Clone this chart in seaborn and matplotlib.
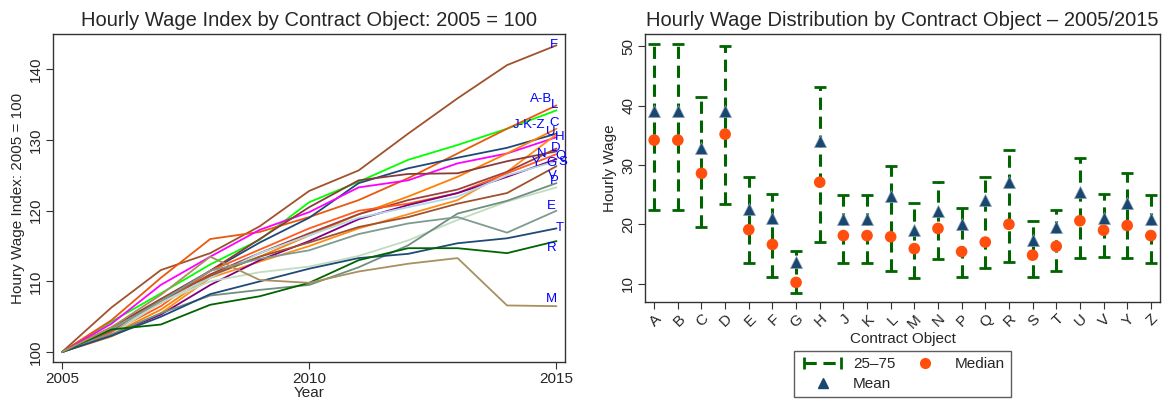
import numpy as np
import pandas as pd
import seaborn as sns
import matplotlib
matplotlib.use("Agg")
from matplotlib import pyplot as plt
from matplotlib.lines import Line2D
from matplotlib.legend_handler import HandlerLine2D

# left panel: hourly wage index by group, 2005 = 100
years = list(range(2005, 2016))
groups = ['F', 'A-B', 'L', 'J-K-Z', 'H', 'C', 'U', 'N', 'D', 'Q',
          'Y', 'G', 'S', 'V', 'P', 'E', 'T', 'R', 'M']
idx_F = [100, 106.3, 111.6, 114.0, 117.8, 122.8, 125.7, 130.9, 135.9, 140.6, 143.4]
idx_AB = [100, 104.3, 108.3, 112.4, 115.9, 121.2, 124.1, 127.2, 129.3, 131.6, 134.2]
idx_L = [100, 104.5, 110.5, 116.0, 117.0, 119.1, 121.5, 124.6, 128.1, 131.6, 134.9]
idx_JKZ = [100, 103.0, 107.0, 111.5, 115.5, 119.0, 123.9, 126.0, 127.5, 128.9, 130.9]
idx_H = [100, 104.0, 109.5, 113.5, 117.3, 119.8, 123.3, 124.3, 126.7, 128.1, 130.4]
idx_C = [100, 102.5, 106.0, 110.8, 113.5, 116.5, 119.5, 122.0, 124.8, 128.1, 131.6]
idx_U = [100, 102.2, 105.5, 110.5, 112.8, 115.0, 117.5, 119.5, 121.5, 125.5, 130.8]
idx_N = [100, 103.5, 107.5, 111.5, 116.0, 120.5, 124.3, 125.2, 125.3, 127.0, 128.4]
idx_D = [100, 103.2, 107.0, 111.0, 114.0, 116.8, 119.5, 121.5, 123.0, 125.5, 128.8]
idx_Q = [100, 102.8, 106.5, 111.5, 114.5, 117.5, 120.0, 121.0, 122.5, 125.3, 128.0]
idx_Y = [100, 102.5, 105.3, 109.5, 113.0, 115.7, 118.8, 120.8, 122.5, 124.8, 127.3]
idx_G = [100, 103.0, 107.0, 110.5, 114.0, 116.5, 119.0, 120.5, 122.0, 125.0, 127.0]
idx_S = [100, 103.0, 107.5, 110.8, 113.5, 115.5, 117.7, 119.1, 121.0, 122.5, 126.3]
idx_V = [100, 102.5, 107.0, 110.0, 111.3, 112.1, 113.6, 115.8, 118.7, 121.3, 123.3]
idx_P = [100, 102.5, 105.5, 108.0, 108.8, 109.5, 112.0, 115.1, 119.6, 121.4, 123.9]
idx_E = [100, 103.2, 107.2, 111.5, 113.2, 114.4, 116.7, 118.2, 119.1, 116.9, 120.0]
idx_T = [100, 102.3, 105.0, 108.2, 110.0, 111.8, 113.3, 113.9, 115.4, 116.1, 117.5]
idx_R = [100, 103.2, 103.9, 106.7, 107.9, 109.8, 113.0, 114.7, 114.7, 114.0, 115.7]
idx_M = [100, 103.5, 108.1, 113.5, 110.2, 109.8, 111.4, 112.5, 113.3, 106.6, 106.5]
series = [idx_F, idx_AB, idx_L, idx_JKZ, idx_H, idx_C, idx_U, idx_N, idx_D, idx_Q,
          idx_Y, idx_G, idx_S, idx_V, idx_P, idx_E, idx_T, idx_R, idx_M]

line_colors = ['#a0522d', '#00ff00', '#e8590c', '#1f4a78', '#ff00ff', '#ff7f00',
               '#ff8c1a', '#8b3a3a', '#a0403a', '#ff5a1f', '#800080', '#add8e6',
               '#a0522d', '#c1dcc1', '#708f80', '#7f9a8f', '#1f4a78', '#006400', '#a89060']
# label offsets in pixels from the 2015 point
label_dx = [-3, -15, -2, -27, 3, -2, -6, -15, -1, 4, -20, -5, 6, -4, -2, -5, 3, -5, -5]
label_dy = [0, 11, 0, 9, 0, 6, 2, -3, 1, -2, -4, -2, 4, 11, 2, 5, 0, -7, 7]

# right panel: hourly wage distribution
cats = ['A', 'B', 'C', 'D', 'E', 'F', 'G', 'H', 'J', 'K', 'L',
        'M', 'N', 'P', 'Q', 'R', 'S', 'T', 'U', 'V', 'Y', 'Z']
p75 = [50.4, 50.4, 41.5, 50.0, 27.9, 25.1, 15.5, 43.1, 25.0, 25.0, 29.8,
       23.6, 27.1, 22.7, 27.9, 32.6, 20.5, 22.4, 31.2, 25.1, 28.7, 25.0]
mean = [39.1, 39.1, 32.9, 39.1, 22.6, 21.0, 13.7, 34.1, 20.9, 20.9, 24.8,
        19.1, 22.3, 20.1, 24.1, 27.1, 17.4, 19.6, 25.5, 21.0, 23.6, 20.9]
median = [34.2, 34.2, 28.6, 35.2, 19.1, 16.6, 10.2, 27.1, 18.1, 18.1, 17.9,
          15.9, 19.3, 15.4, 17.0, 20.0, 14.8, 16.3, 20.6, 19.0, 19.8, 18.1]
p25 = [22.4, 22.4, 19.6, 23.5, 13.4, 11.2, 8.4, 17.0, 13.5, 13.5, 12.1,
       11.0, 14.1, 11.1, 12.6, 13.7, 11.1, 12.1, 14.3, 14.5, 14.3, 13.5]

sns.set_style("ticks")
plt.rcParams['font.family'] = ['Liberation Sans', 'DejaVu Sans']

df_idx = pd.DataFrame({
    'year': np.tile(years, len(groups)),
    'group': np.repeat(groups, len(years)),
    'index': np.concatenate(series),
})
df_dist = pd.DataFrame({'cat': cats, 'p25': p25, 'p75': p75,
                        'median': median, 'mean': mean})
df_dist['pos'] = np.arange(len(cats))

fig = plt.figure(figsize=(11.72, 4), dpi=100)
ax1 = fig.add_axes([0.0452, 0.095, 0.4368, 0.82])
ax2 = fig.add_axes([0.5503, 0.245, 0.4395, 0.67])

# left panel
sns.lineplot(data=df_idx, x='year', y='index', hue='group', hue_order=groups,
             palette=line_colors, linewidth=1.3, legend=False, ax=ax1)
for g, s, dx, dy in zip(groups, series, label_dx, label_dy):
    ax1.annotate(g, (years[-1], s[-1]), xytext=(dx, dy), textcoords='offset pixels',
                 ha='center', va='center', color='#0000ff', fontsize=9.5)
ax1.set_xlim(2004.82, 2015.17)
ax1.set_ylim(98.6, 145.0)
ax1.set_xticks([2005, 2010, 2015])
ax1.set_yticks([100, 110, 120, 130, 140])
ax1.set_xlabel('Year', fontsize=11, labelpad=0)
ax1.set_ylabel('Houry Wage Index: 2005 = 100', fontsize=11, labelpad=3)
ax1.set_title('Hourly Wage Index by Contract Object: 2005 = 100', fontsize=14.5, pad=6)

# right panel
eb = ax2.errorbar(df_dist['pos'], df_dist['p25'], yerr=[np.zeros(len(cats)),
                  df_dist['p75'] - df_dist['p25']], fmt='none', ecolor='#006400',
                  elinewidth=2.2, capsize=4, capthick=2)
eb[2][0].set_linestyle((0, (4, 2.2)))
sns.scatterplot(data=df_dist, x='pos', y='mean', marker='^', s=75, color='#1a476f',
                edgecolor='#8aa0b8', linewidth=0.5, ax=ax2, zorder=3)
sns.scatterplot(data=df_dist, x='pos', y='median', marker='o', s=70, color='#ff4e0d',
                edgecolor='none', ax=ax2, zorder=4)
ax2.set_xlim(-0.39, 21.39)
ax2.set_ylim(6.9, 52.1)
ax2.set_xticks(df_dist['pos'])
ax2.set_xticklabels(cats, rotation=45, ha='right', rotation_mode='anchor')
ax2.set_yticks([10, 20, 30, 40, 50])
ax2.set_xlabel('Contract Object', fontsize=11, labelpad=1)
ax2.set_ylabel('Hourly Wage', fontsize=11, labelpad=3)
ax2.set_title('Hourly Wage Distribution by Contract Object \u2013 2005/2015', fontsize=14.5, pad=6)

for ax in (ax1, ax2):
    for sp in ax.spines.values():
        sp.set_visible(True)
        sp.set_color('#333333')
        sp.set_linewidth(1.0)
    ax.tick_params(axis='both', labelsize=11, direction='out', length=5, pad=2,
                   color='#333333')
    for lab in ax.get_yticklabels():
        lab.set_rotation(90)
        lab.set_va('center')

h_iqr = Line2D([0], [0], color='#006400', lw=2.2, ls=(0, (4, 2.2)),
               marker='|', markersize=9, markeredgewidth=2)
h_mean = Line2D([0], [0], color='#1a476f', lw=0, marker='^', markersize=7)
h_med = Line2D([0], [0], color='#ff4e0d', lw=0, marker='o', markersize=7)
leg = fig.legend([h_iqr, h_mean, h_med], ['25\u201375', 'Mean', 'Median'], ncol=2,
                 loc='upper center', bbox_to_anchor=(0.77, 0.123), numpoints=2,
                 handler_map={h_mean: HandlerLine2D(numpoints=1),
                              h_med: HandlerLine2D(numpoints=1)},
                 fontsize=11, handlelength=3.0, frameon=True, fancybox=False,
                 edgecolor='#333333', borderpad=0.4, labelspacing=0.4, columnspacing=0.4,
                 handletextpad=0.5, borderaxespad=0)
leg.get_frame().set_linewidth(1.0)

fig.savefig('out.png', dpi=100)
